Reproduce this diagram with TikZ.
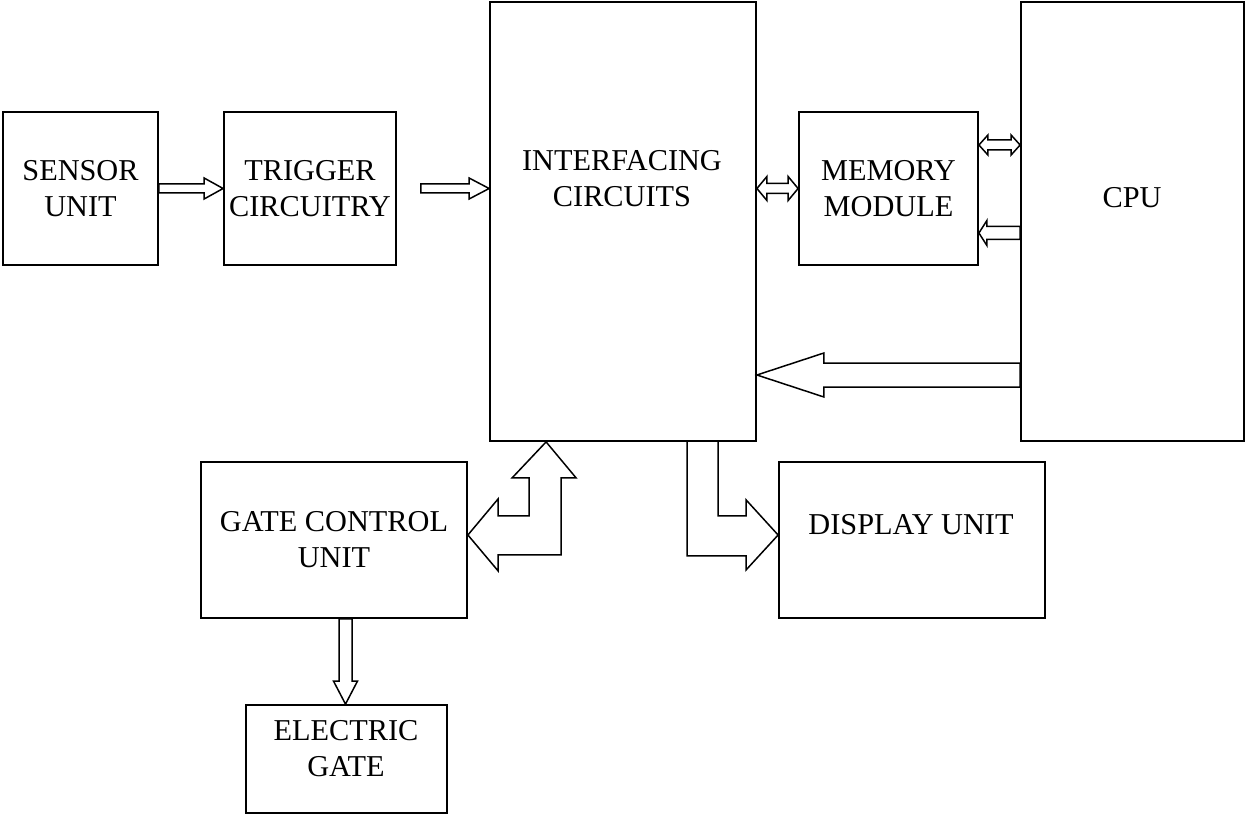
\documentclass[tikz,border=0pt]{standalone}
\usepackage{fontspec}
\setmainfont{Liberation Serif}
\usetikzlibrary{calc}
\tikzset{
  box/.style={draw,line width=1.8pt,inner sep=0pt,align=center,font=\blockfont},
  txt/.style={inner sep=0pt,align=center,font=\blockfont},
  blk/.style={draw,line width=1.5pt,line join=miter},
}
\newcommand{\blockfont}{\fontsize{30.3}{36}\selectfont}
% hollow block arrows: from, to, shaft half width, head half width, head length
\newcommand{\hollowarr}[5]{%
  \draw[blk] let \p1=(#1),\p2=(#2),\n1={#5*sign(\x2-\x1)} in
    (\x1,\y1+#3) -- (\x2-\n1,\y1+#3) -- (\x2-\n1,\y1+#4) -- (\x2,\y1)
    -- (\x2-\n1,\y1-#4) -- (\x2-\n1,\y1-#3) -- (\x1,\y1-#3) -- cycle;}
\newcommand{\twowayarr}[5]{%
  \draw[blk] let \p1=(#1),\p2=(#2),\n1={#5*sign(\x2-\x1)} in
    (\x1,\y1) -- (\x1+\n1,\y1+#4) -- (\x1+\n1,\y1+#3) -- (\x2-\n1,\y1+#3)
    -- (\x2-\n1,\y1+#4) -- (\x2,\y1) -- (\x2-\n1,\y1-#4) -- (\x2-\n1,\y1-#3)
    -- (\x1+\n1,\y1-#3) -- (\x1+\n1,\y1-#4) -- cycle;}
\newcommand{\downarr}[5]{%
  \draw[blk] let \p1=(#1),\p2=(#2),\n1={#5*sign(\y2-\y1)} in
    (\x1+#3,\y1) -- (\x1+#3,\y2-\n1) -- (\x1+#4,\y2-\n1) -- (\x1,\y2)
    -- (\x1-#4,\y2-\n1) -- (\x1-#3,\y2-\n1) -- (\x1-#3,\y1) -- cycle;}

\begin{document}
\begin{tikzpicture}[x=1pt,y=-1pt]
\useasboundingbox (0,0) rectangle (1245,818);

% blocks
\node[box,minimum width=155pt,minimum height=153pt] (sensor) at (80.5,188.5) {SENSOR\\UNIT};
\node[box,minimum width=172pt,minimum height=153pt] (trigger) at (310,188.5) {TRIGGER\\CIRCUITRY};
\node[box,minimum width=266pt,minimum height=439pt] (iface) at (623,221.5) {};
\node[txt] (ifacetxt) at (622,179) {INTERFACING\\CIRCUITS};
\node[box,minimum width=179pt,minimum height=153pt] (memory) at (888.5,188.5) {MEMORY\\MODULE};
\node[box,minimum width=223pt,minimum height=439pt] (cpu) at (1132.5,221.5) {};
\node[txt] (cputxt) at (1132,198) {CPU};
\node[box,minimum width=266pt,minimum height=156pt] (gate) at (334,540) {GATE CONTROL\\UNIT};
\node[box,minimum width=266pt,minimum height=156pt] (display) at (912,540) {};
\node[txt] (displaytxt) at (911,525) {DISPLAY UNIT};
\node[box,minimum width=201pt,minimum height=108pt] (egate) at (346.5,759) {};
\node[txt] (egatetxt) at (346,749) {ELECTRIC\\GATE};

% straight block arrows
\hollowarr{sensor.east}{trigger.west}{4.5}{10.5}{19}
\hollowarr{$(trigger.east)+(24,0)$}{iface.west}{4.5}{10.5}{20}
\twowayarr{iface.east |- memory.west}{memory.west}{5}{12}{10}
\twowayarr{$(memory.east)+(0,-43.5)$}{cpu.west}{5}{10}{9}
\hollowarr{$(cpu.west)+(0,11.5)$}{memory.east}{6.5}{12.5}{8}
\hollowarr{$(cpu.west)+(0,153.5)$}{iface.east}{12}{22}{67}
\downarr{$(gate.south)+(11.5,0)$}{egate.north}{6.5}{12}{23}

% bent block arrows
\draw[blk,shift={(iface.south west)}] ($(gate.east)+(0,-5)$) -- (9,57) -- (9,74) -- (40,74)
  -- (40,36) -- (23,36) -- (57,0) -- (87,36) -- (72,36) -- (72,113) -- (9,113) -- (9,129) -- cycle;
\draw[blk,shift={(iface.south west)}] (198,0) -- (198,114) -- (257,114) -- (257,128)
  -- ($(display.west)+(0,-5)$) -- (257,58) -- (257,74) -- (229,74) -- (229,0);
\end{tikzpicture}
\end{document}
